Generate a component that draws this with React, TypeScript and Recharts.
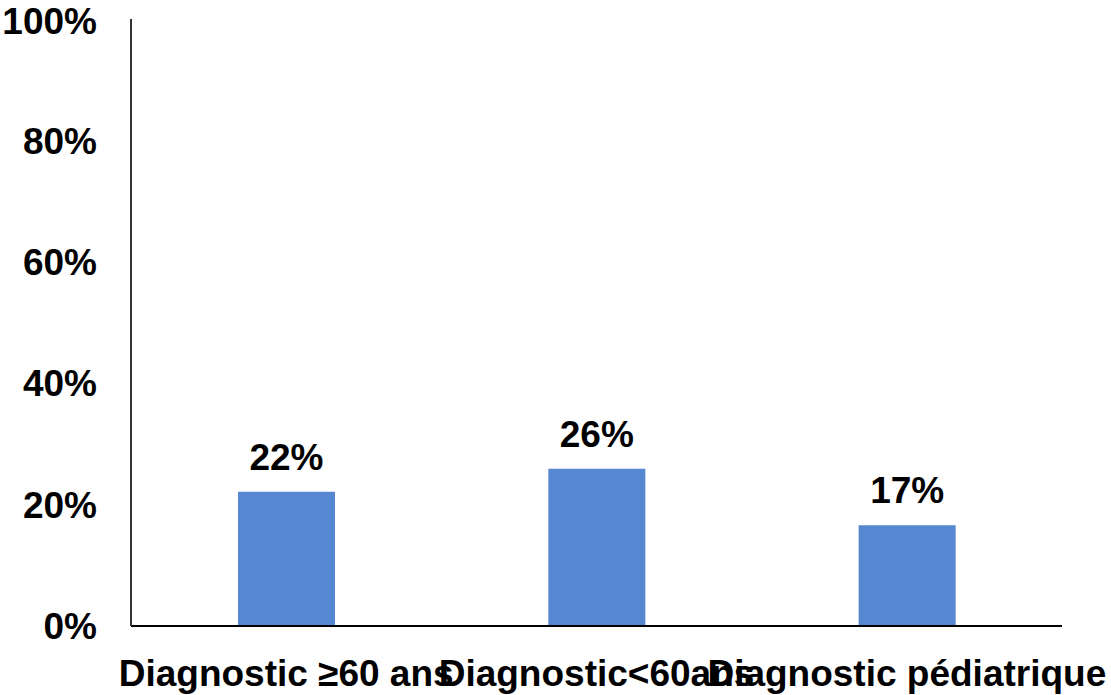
import { BarChart, Bar, XAxis, YAxis, LabelList } from 'recharts'

// Categories and values
const categories = ['Diagnostic ≥60 ans', 'Diagnostic<60ans', 'Diagnostic pédiatrique']
const shares = [22.1, 25.9, 16.6]
const shareLabels = ['22%', '26%', '17%']
const yTicks = [0, 20, 40, 60, 80, 100]

const FONT = '"Liberation Sans", Arial, sans-serif'
const BAR_COLOR = '#5588D1'

const chartData = categories.map((name, i) => ({
  name,
  value: shares[i],
  label: shareLabels[i]
}))

const tickStyle = { fontSize: 37, fontWeight: 700, fill: '#000', fontFamily: FONT }

export default function App() {
  return (
    <div style={{ position: 'absolute', left: 0, top: 0, width: 1111, height: 695, background: '#fff' }}>
      <BarChart
        width={1111}
        height={695}
        data={chartData}
        margin={{ top: 19, right: 49, left: 0, bottom: 0 }}
        barSize={97}
      >
        <XAxis
          dataKey="name"
          interval={0}
          height={69}
          tick={tickStyle}
          tickLine={false}
          tickSize={0}
          tickMargin={34}
          axisLine={{ stroke: '#000', strokeWidth: 2 }}
        />
        <YAxis
          domain={[0, 100]}
          ticks={yTicks}
          width={131}
          tick={tickStyle}
          tickLine={false}
          tickSize={0}
          tickMargin={34}
          tickFormatter={(v) => `${v}%`}
          axisLine={{ stroke: '#333', strokeWidth: 2 }}
        />
        <Bar dataKey="value" fill={BAR_COLOR} isAnimationActive={false}>
          <LabelList
            dataKey="label"
            position="top"
            offset={22}
            style={{ fontSize: 37, fontWeight: 700, fill: '#000', fontFamily: FONT }}
          />
        </Bar>
      </BarChart>
    </div>
  )
}
